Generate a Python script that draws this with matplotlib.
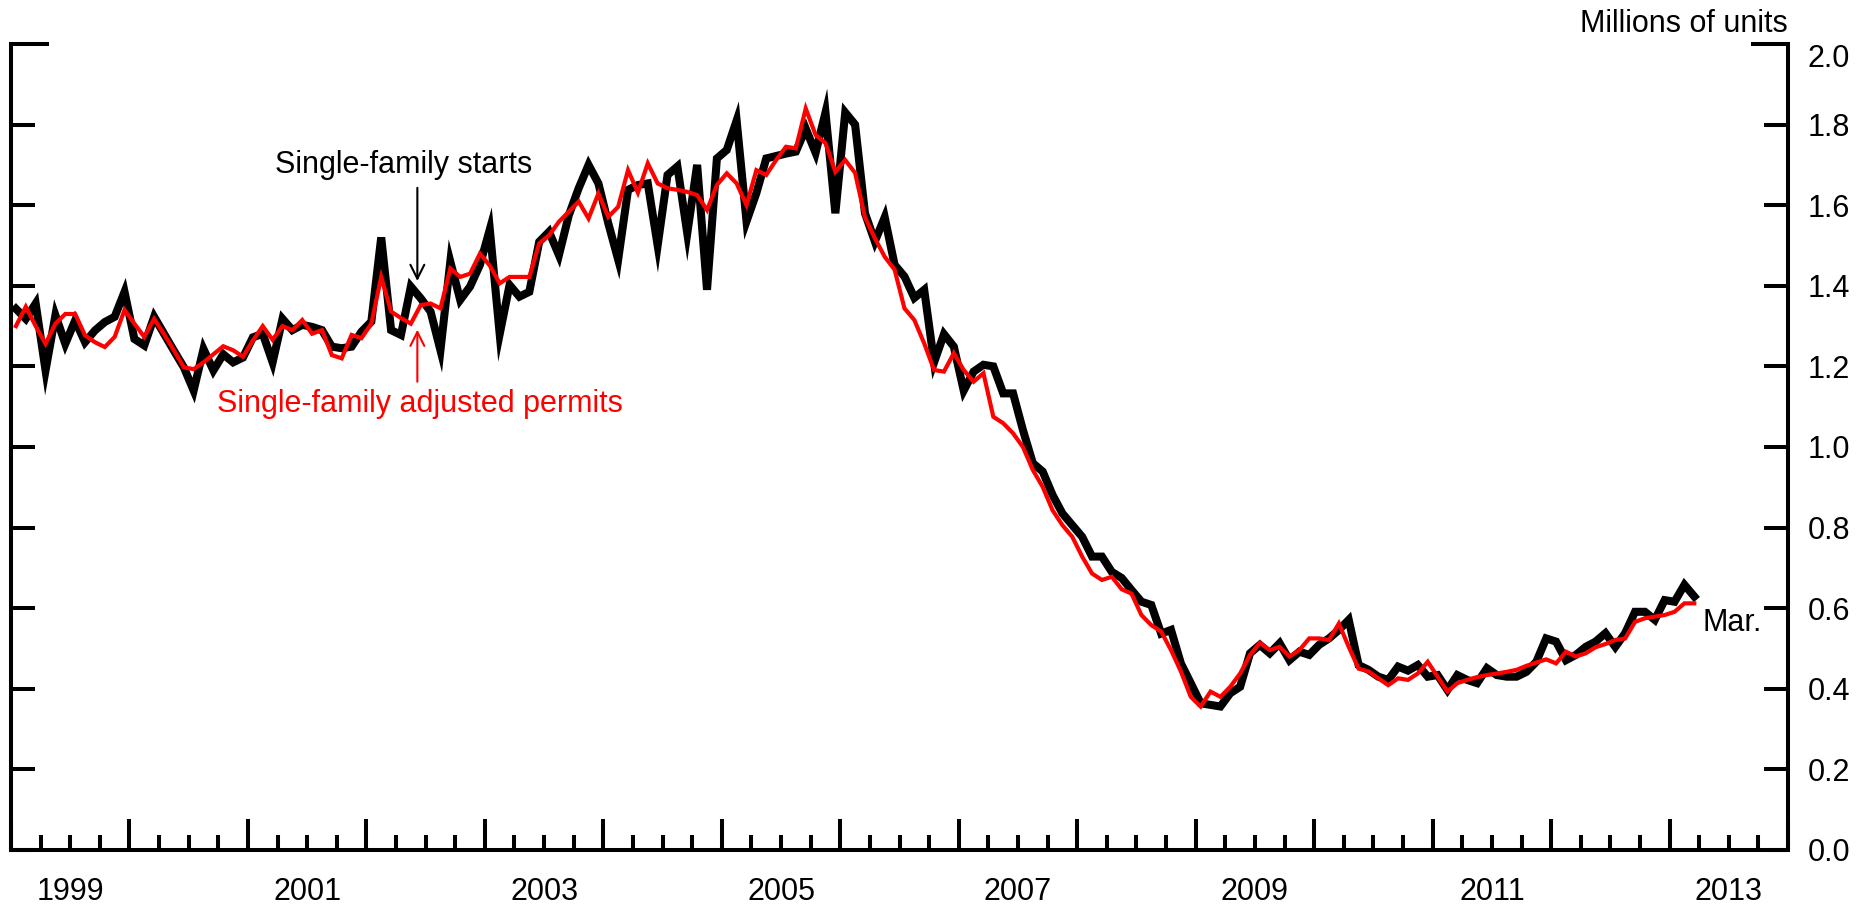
import numpy as np
import matplotlib.pyplot as plt
from matplotlib.ticker import FixedLocator, FixedFormatter, FormatStrFormatter

plt.rcParams['font.family'] = ['Liberation Sans', 'DejaVu Sans']

# monthly, Jan 1999 - Mar 2013, millions of units (annual rate)
starts = [
    1.343, 1.318, 1.356, 1.19, 1.327, 1.256, 1.314, 1.26, 1.289, 1.31, 1.323, 1.385,
    1.268, 1.252, 1.323, 1.281, 1.239, 1.198, 1.14, 1.243, 1.19, 1.23, 1.21, 1.222,
    1.272, 1.281, 1.21, 1.318, 1.29, 1.303, 1.298, 1.29, 1.249, 1.245, 1.249, 1.286,
    1.311, 1.52, 1.29, 1.278, 1.398, 1.369, 1.336, 1.24, 1.46, 1.365, 1.398, 1.452,
    1.54, 1.28, 1.402, 1.373, 1.385, 1.509, 1.534, 1.476, 1.575, 1.642, 1.70, 1.654,
    1.555, 1.465, 1.638, 1.65, 1.654, 1.50, 1.675, 1.696, 1.53, 1.70, 1.39, 1.716,
    1.737, 1.81, 1.56, 1.63, 1.716, 1.722, 1.728, 1.733, 1.79, 1.73, 1.83, 1.58,
    1.83, 1.80, 1.58, 1.51, 1.57, 1.452, 1.423, 1.37, 1.39, 1.21, 1.28, 1.249,
    1.14, 1.187, 1.204, 1.2, 1.133, 1.133, 1.042, 0.96, 0.939, 0.881, 0.835, 0.806,
    0.777, 0.728, 0.728, 0.69, 0.675, 0.645, 0.616, 0.608, 0.537, 0.546, 0.463, 0.414,
    0.364, 0.36, 0.356, 0.389, 0.405, 0.488, 0.509, 0.488, 0.513, 0.471, 0.492, 0.484,
    0.509, 0.525, 0.546, 0.571, 0.459, 0.447, 0.43, 0.422, 0.455, 0.445, 0.459, 0.43,
    0.434, 0.397, 0.434, 0.422, 0.414, 0.451, 0.434, 0.43, 0.43, 0.442, 0.467, 0.525,
    0.517, 0.471, 0.484, 0.504, 0.517, 0.538, 0.504, 0.538, 0.591, 0.591, 0.571, 0.62,
    0.616, 0.658, 0.629,
]
permits = [
    1.30, 1.348, 1.30, 1.256, 1.306, 1.33, 1.33, 1.277, 1.26, 1.248, 1.273, 1.34,
    1.306, 1.273, 1.318, 1.28, 1.24, 1.198, 1.193, 1.21, 1.23, 1.25, 1.24, 1.224,
    1.264, 1.30, 1.266, 1.30, 1.29, 1.315, 1.281, 1.29, 1.228, 1.22, 1.278, 1.27,
    1.306, 1.422, 1.336, 1.32, 1.306, 1.352, 1.356, 1.344, 1.443, 1.422, 1.43, 1.48,
    1.45, 1.406, 1.422, 1.422, 1.422, 1.505, 1.525, 1.559, 1.584, 1.609, 1.567, 1.629,
    1.571, 1.596, 1.687, 1.631, 1.704, 1.654, 1.642, 1.638, 1.633, 1.625, 1.588, 1.65,
    1.679, 1.654, 1.60, 1.687, 1.675, 1.712, 1.745, 1.741, 1.84, 1.774, 1.754, 1.683,
    1.712, 1.68, 1.57, 1.518, 1.472, 1.44, 1.344, 1.315, 1.257, 1.191, 1.187, 1.233,
    1.191, 1.162, 1.183, 1.075, 1.059, 1.034, 1.0, 0.943, 0.901, 0.843, 0.806, 0.777,
    0.728, 0.686, 0.67, 0.678, 0.647, 0.636, 0.583, 0.558, 0.542, 0.496, 0.443, 0.38,
    0.356, 0.393, 0.38, 0.405, 0.438, 0.484, 0.514, 0.496, 0.504, 0.48, 0.496, 0.525,
    0.525, 0.521, 0.562, 0.504, 0.45, 0.443, 0.426, 0.409, 0.426, 0.422, 0.438, 0.467,
    0.43, 0.393, 0.414, 0.422, 0.429, 0.434, 0.438, 0.442, 0.447, 0.457, 0.465, 0.473,
    0.463, 0.492, 0.48, 0.488, 0.503, 0.511, 0.521, 0.525, 0.566, 0.575, 0.579, 0.583,
    0.591, 0.612, 0.612,
]
year_labels = [1999, 2001, 2003, 2005, 2007, 2009, 2011, 2013]

x = 1999 + (np.arange(len(starts)) + 0.5) / 12.0

fig = plt.figure(figsize=(18.62, 9.05), dpi=100)
ax = fig.add_axes([0.0059, 0.0608, 0.9544, 0.8906])

ax.plot(x, starts, color='black', lw=5.8, solid_joinstyle='miter')
ax.plot(x, permits, color='red', lw=3.0, solid_joinstyle='miter')

ax.set_xlim(1999, 2014)
ax.set_ylim(0, 2.0)
ax.spines['top'].set_visible(False)
for s in ['left', 'right', 'bottom']:
    ax.spines[s].set_linewidth(2.9)

# x axis: year ticks, quarterly minor ticks, labels centred in odd years
ax.xaxis.set_major_locator(FixedLocator(np.arange(1999, 2015)))
ax.xaxis.set_minor_locator(FixedLocator(np.arange(1999, 2014, 0.25)))
ax.tick_params(axis='x', which='major', direction='in', length=22, width=2.9, labelbottom=False)
ax.tick_params(axis='x', which='minor', direction='in', length=11, width=2.9)
for yr in year_labels:
    ax.annotate(str(yr), xy=(yr + 0.5, 0), xycoords=('data', 'axes fraction'),
                xytext=(0, -36), textcoords='offset points',
                ha='center', va='baseline', fontsize=22)

# y axis: ticks both sides, labels right
ax.yaxis.set_major_locator(FixedLocator(np.arange(0, 1.81, 0.2)))
ax.yaxis.set_major_formatter(FormatStrFormatter('%.1f'))
ax.yaxis.set_minor_locator(FixedLocator([2.0]))
ax.yaxis.set_minor_formatter(FixedFormatter(['2.0']))
ax.tick_params(axis='y', which='both', direction='in', width=2.9, left=True, right=True,
               labelleft=False, labelright=True, labelsize=22, pad=14)
ax.tick_params(axis='y', which='major', length=17)
ax.tick_params(axis='y', which='minor', length=27)
for t in ax.yaxis.get_minor_ticks():
    t.label2.set_va('top')

ax.text(1.0, 1.015, 'Millions of units', transform=ax.transAxes,
        ha='right', va='baseline', fontsize=22)

# annotations
ax.annotate('', xy=(2002.43, 1.405), xytext=(2002.43, 1.65),
            arrowprops=dict(arrowstyle='->', lw=1.5, color='black', mutation_scale=25))
ax.text(2002.31, 1.70, 'Single-family starts', ha='center', va='center', fontsize=22)
ax.annotate('', xy=(2002.43, 1.298), xytext=(2002.43, 1.155),
            arrowprops=dict(arrowstyle='->', lw=1.5, color='red', mutation_scale=25))
ax.text(2002.45, 1.107, 'Single-family adjusted permits', ha='center', va='center',
        fontsize=22, color='red')
ax.text(2013.28, 0.563, 'Mar.', ha='left', va='center', fontsize=22)

fig.savefig('out.png', dpi=100)
